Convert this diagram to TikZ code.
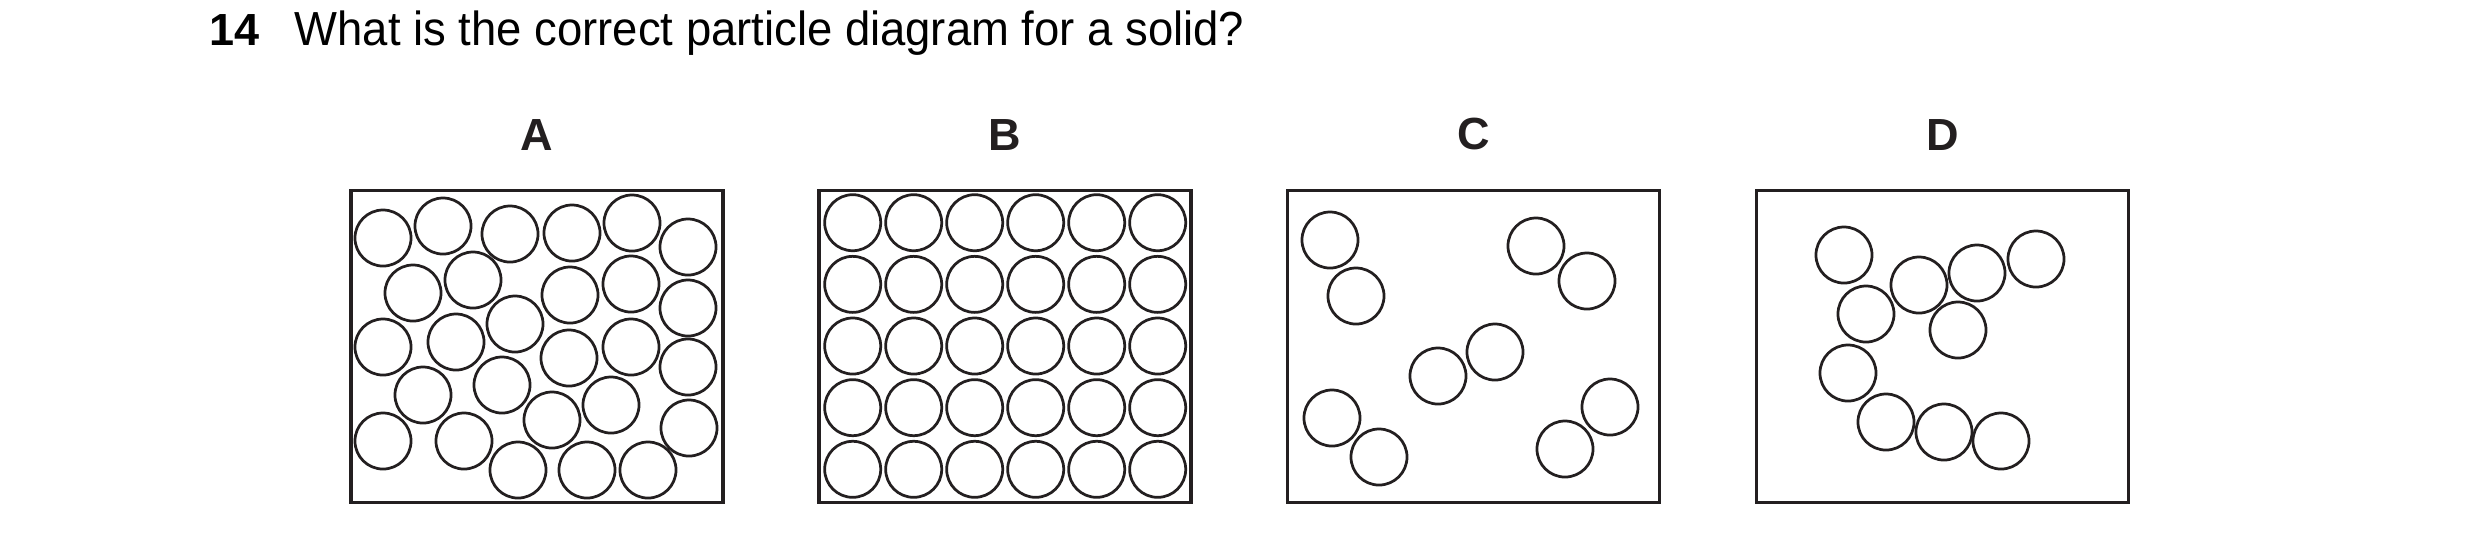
\documentclass[tikz,border=0pt]{standalone}
\usepackage{fontspec}
\setmainfont{Liberation Sans}
\newfontfamily\questfont[FakeStretch=0.95]{Liberation Sans}
\usetikzlibrary{positioning}
\definecolor{ink}{HTML}{231F20}

\begin{document}
\begin{tikzpicture}[
        x=0.01cm, y=-0.01cm,
        panel/.style={draw=ink, line width=0.95pt, minimum width=3.72cm, minimum height=3.12cm, inner sep=0pt},
        letter/.style={font=\fontsize{12.8}{15}\selectfont\bfseries, text=ink, inner sep=0pt},
        particle/.style={draw=ink, line width=0.78pt},
        node distance=0.38cm
        ]
        \useasboundingbox (0,0) rectangle (2480,544);

        % Question line
        \node (qnum)  [anchor=base west, inner sep=0pt, font=\fontsize{12.8}{15}\selectfont\bfseries] at (209,45) {14};
        \node (qtext) [anchor=base west, inner sep=0pt, font=\questfont\fontsize{13.6}{16}\selectfont] at (294,45) {What is the correct particle diagram for a solid?};

        % The four boxes with their letters
        \node (boxA) [panel] at (537,346.5)  {};
        \node (boxB) [panel] at (1005,346.5) {};
        \node (boxC) [panel] at (1473.5,346.5) {};
        \node (boxD) [panel] at (1942.5,346.5) {};
        \node (labA) [letter, above=of boxA] {A};
        \node (labB) [letter, above=of boxB] {B};
        \node (labC) [letter, above=of boxC] {C};
        \node (labD) [letter, above=of boxD] {D};

        % A: packed but irregular
        \foreach \cx/\cy in {383/238, 443/226, 510/234, 572/233, 632/223, 688/247,
                             413/293, 473/280, 570/295, 631/284, 688/308,
                             383/347, 456/342, 515/324, 569/358, 631/347, 688/367,
                             423/395, 502/385, 552/420, 611/405, 689/428,
                             383/441, 464/441, 518/470, 587/470, 648/470}
          \draw[particle] (\cx,\cy) circle[radius=0.28cm];

        % B: regular rows
        \foreach \i in {0,...,5}
          \foreach \j in {0,...,4}
            \draw[particle] ({852.7+61*\i},{222.7+61.65*\j}) circle[radius=0.28cm];

        % C: pairs far apart
        \foreach \cx/\cy in {1330/240, 1356/296, 1536/246, 1587/281, 1438/376,
                             1495/352, 1332/418, 1379/457, 1610/407, 1565/449}
          \draw[particle] (\cx,\cy) circle[radius=0.28cm];

        % D: touching, loosely grouped
        \foreach \cx/\cy in {1844/255, 1866/314, 1919/285, 1977/273, 2036/259,
                             1958/330, 1848/373, 1886/422, 1944/432, 2001/441}
          \draw[particle] (\cx,\cy) circle[radius=0.28cm];
      \end{tikzpicture}
\end{document}
